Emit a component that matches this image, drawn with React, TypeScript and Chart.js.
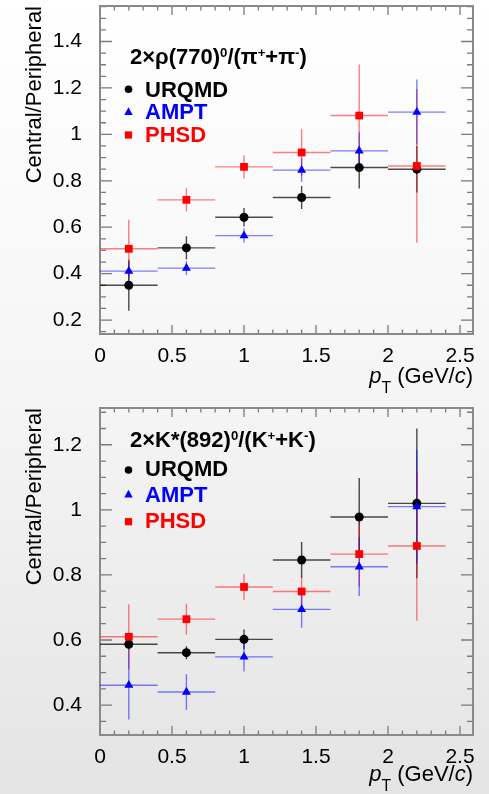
import React, { useEffect, useRef } from "react";
import { Chart, registerables } from "chart.js";

Chart.register(...registerables);

// ---------- data ----------
const binCenters = [0.2, 0.6, 1.0, 1.4, 1.8, 2.2];
const binHalfWidths = [0.2, 0.2, 0.2, 0.2, 0.2, 0.2];
const seriesNames = ["URQMD", "AMPT", "PHSD"];

// rho(770)0 panel
const rhoUrqmd = [0.35, 0.511, 0.643, 0.728, 0.857, 0.85];
const rhoUrqmdErr = [0.11, 0.05, 0.04, 0.05, 0.09, 0.1];
const rhoAmpt = [0.411, 0.424, 0.564, 0.846, 0.929, 1.096];
const rhoAmptErr = [0.04, 0.03, 0.03, 0.05, 0.08, 0.14];
const rhoPhsd = [0.507, 0.718, 0.86, 0.922, 1.081, 0.864];
const rhoPhsdErr = [0.125, 0.05, 0.05, 0.1, 0.22, 0.33];

// K*(892)0 panel
const kUrqmd = [0.587, 0.561, 0.602, 0.846, 0.978, 1.02];
const kUrqmdErr = [0.02, 0.02, 0.03, 0.055, 0.12, 0.23];
const kAmpt = [0.461, 0.44, 0.548, 0.694, 0.825, 1.01];
const kAmptErr = [0.105, 0.055, 0.045, 0.056, 0.09, 0.175];
const kPhsd = [0.61, 0.664, 0.763, 0.749, 0.864, 0.889];
const kPhsdErr = [0.1, 0.047, 0.04, 0.05, 0.1, 0.23];

// axes
const xTicks = [0, 0.5, 1, 1.5, 2, 2.5];
const xRange = [0, 2.59];
const rhoYTicks = [0.2, 0.4, 0.6, 0.8, 1, 1.2, 1.4];
const rhoYRange = [0.14, 1.553];
const kYTicks = [0.4, 0.6, 0.8, 1, 1.2];
const kYRange = [0.308, 1.313];

const yTitle = "Central/Peripheral";

type Piece = { t: string; sup?: boolean; sub?: boolean; italic?: boolean };

const rhoHeader: Piece[] = [
  { t: "2×ρ(770)" },
  { t: "0", sup: true },
  { t: "/(π" },
  { t: "+", sup: true },
  { t: "+π" },
  { t: "-", sup: true },
  { t: ")" },
];
const kHeader: Piece[] = [
  { t: "2×K*(892)" },
  { t: "0", sup: true },
  { t: "/(K" },
  { t: "+", sup: true },
  { t: "+K" },
  { t: "-", sup: true },
  { t: ")" },
];
const xTitlePieces: Piece[] = [
  { t: "p", italic: true },
  { t: "T", sub: true },
  { t: " (GeV/" },
  { t: "c", italic: true },
  { t: ")" },
];

// ---------- styles ----------
const FAMILY = '"Liberation Sans", Arial, Helvetica, sans-serif';
const MARKER_COLORS: Record<string, string> = {
  URQMD: "#000000",
  AMPT: "#0000ff",
  PHSD: "#ff0000",
};
const BAR_COLORS: Record<string, string> = {
  URQMD: "rgba(0,0,0,0.7)",
  AMPT: "rgba(0,0,255,0.5)",
  PHSD: "rgba(255,0,0,0.5)",
};
const POINT_STYLE: Record<string, any> = { URQMD: "circle", AMPT: "triangle", PHSD: "rect" };
const POINT_RADIUS: Record<string, number> = { URQMD: 4.5, AMPT: 5.2, PHSD: 5.5 };
const DRAW_ORDER: Record<string, number> = { URQMD: 2, PHSD: 1, AMPT: 0 };

function drawRich(
  ctx: CanvasRenderingContext2D,
  pieces: Piece[],
  x: number,
  baseline: number,
  size: number,
  bold: boolean,
  color: string,
  alignRight = false
) {
  const fontFor = (p: Piece) => {
    const s = p.sup ? size * 0.6 : p.sub ? size * 0.72 : size;
    return `${p.italic ? "italic " : ""}${bold ? "bold " : ""}${s}px ${FAMILY}`;
  };
  ctx.save();
  ctx.fillStyle = color;
  ctx.textBaseline = "alphabetic";
  ctx.textAlign = "left";
  let total = 0;
  const widths = pieces.map((p) => {
    ctx.font = fontFor(p);
    const w = ctx.measureText(p.t).width;
    total += w;
    return w;
  });
  let cx = alignRight ? x - total : x;
  pieces.forEach((p, i) => {
    ctx.font = fontFor(p);
    const dy = p.sup ? -size * 0.3 : p.sub ? size * 0.45 : 0;
    ctx.fillText(p.t, cx, baseline + dy);
    cx += widths[i];
  });
  ctx.restore();
}

function drawMarker(ctx: CanvasRenderingContext2D, style: string, x: number, y: number, color: string) {
  ctx.save();
  ctx.fillStyle = color;
  ctx.beginPath();
  if (style === "circle") {
    ctx.arc(x, y, 3.8, 0, Math.PI * 2);
  } else if (style === "triangle") {
    ctx.moveTo(x, y - 4.5);
    ctx.lineTo(x + 4.2, y + 3.2);
    ctx.lineTo(x - 4.2, y + 3.2);
    ctx.closePath();
  } else {
    ctx.rect(x - 3.6, y - 3.6, 7.2, 7.2);
  }
  ctx.fill();
  ctx.restore();
}

type PanelProps = {
  height: number;
  padTop: number;
  xAxisHeight: number;
  yTicks: number[];
  yRange: number[];
  values: number[][];
  errors: number[][];
  header: Piece[];
  headerBaseline: number;
  legendMarkerY: number[];
  legendTextBaseline: number[];
  xTitleBaseline: number;
};

const fmt = (v: number) => String(Number(v.toFixed(3)));

function Panel(props: PanelProps) {
  const ref = useRef<HTMLCanvasElement | null>(null);

  useEffect(() => {
    if (!ref.current) return;
    const p = props;

    const framePlugin = {
      id: "rootFrame",
      beforeDatasetsDraw(chart: any) {
        const { ctx, chartArea: a, scales } = chart;
        const xs = scales.x;
        const ys = scales.y;
        ctx.save();
        // ticks
        ctx.strokeStyle = "#7a7a7a";
        ctx.lineWidth = 1.3;
        ctx.beginPath();
        const xMinor = 0.1;
        for (let i = 0; i * xMinor <= xs.max + 1e-9; i++) {
          const v = i * xMinor;
          const major = Math.abs(v / 0.5 - Math.round(v / 0.5)) < 1e-6;
          const len = major ? 9 : 4.5;
          const px = xs.getPixelForValue(v);
          ctx.moveTo(px, a.bottom);
          ctx.lineTo(px, a.bottom - len);
          ctx.moveTo(px, a.top);
          ctx.lineTo(px, a.top + len);
        }
        const yMinor = 0.05;
        const start = Math.ceil(ys.min / yMinor - 1e-9);
        for (let i = start; i * yMinor <= ys.max + 1e-9; i++) {
          const v = i * yMinor;
          const major = Math.abs(v / 0.2 - Math.round(v / 0.2)) < 1e-6;
          const len = major ? 12 : 6;
          const py = ys.getPixelForValue(v);
          ctx.moveTo(a.left, py);
          ctx.lineTo(a.left + len, py);
          ctx.moveTo(a.right, py);
          ctx.lineTo(a.right - len, py);
        }
        ctx.stroke();
        // frame
        ctx.strokeStyle = "#8a8a8a";
        ctx.lineWidth = 2;
        ctx.strokeRect(a.left, a.top, a.right - a.left, a.bottom - a.top);

        // error bars: URQMD, PHSD, AMPT
        const order = [0, 2, 1];
        ctx.lineWidth = 1.4;
        order.forEach((si) => {
          const name = seriesNames[si];
          ctx.strokeStyle = BAR_COLORS[name];
          ctx.beginPath();
          binCenters.forEach((c, i) => {
            const v = p.values[si][i];
            const e = p.errors[si][i];
            const px = xs.getPixelForValue(c);
            const py = ys.getPixelForValue(v);
            ctx.moveTo(xs.getPixelForValue(c - binHalfWidths[i]), py);
            ctx.lineTo(xs.getPixelForValue(c + binHalfWidths[i]), py);
            ctx.moveTo(px, ys.getPixelForValue(v + e));
            ctx.lineTo(px, ys.getPixelForValue(v - e));
          });
          ctx.stroke();
        });
        ctx.restore();
      },
      afterDraw(chart: any) {
        const { ctx, chartArea: a } = chart;
        drawRich(ctx, p.header, 130, p.headerBaseline, 22, true, "#000");
        seriesNames.forEach((name, i) => {
          drawMarker(ctx, POINT_STYLE[name], 128.5, p.legendMarkerY[i], MARKER_COLORS[name]);
          drawRich(ctx, [{ t: name }], 145, p.legendTextBaseline[i], 22, true, MARKER_COLORS[name]);
        });
        drawRich(ctx, xTitlePieces, a.right, p.xTitleBaseline, 22, false, "#000", true);
      },
    };

    const datasets = seriesNames.map((name, si) => ({
      label: name,
      data: binCenters.map((x, i) => ({ x, y: p.values[si][i] })),
      pointStyle: POINT_STYLE[name],
      pointRadius: POINT_RADIUS[name],
      backgroundColor: MARKER_COLORS[name],
      borderColor: MARKER_COLORS[name],
      borderWidth: 0,
      showLine: false,
      order: DRAW_ORDER[name],
    }));

    const chart = new Chart(ref.current, {
      type: "scatter",
      data: { datasets },
      options: {
        animation: false,
        responsive: false,
        events: [],
        layout: { padding: { top: p.padTop, right: 16, left: 0, bottom: 0 } },
        plugins: { legend: { display: false }, tooltip: { enabled: false } },
        scales: {
          x: {
            type: "linear",
            min: xRange[0],
            max: xRange[1],
            grid: { display: false },
            border: { display: false },
            ticks: {
              autoSkip: false,
              maxRotation: 0,
              padding: 2,
              color: "#000",
              font: { family: FAMILY, size: 21 },
              callback: (v: any) => fmt(Number(v)),
            },
            afterBuildTicks: (s: any) => {
              s.ticks = xTicks.map((v) => ({ value: v }));
            },
            afterFit: (s: any) => {
              s.height = p.xAxisHeight;
              s.paddingLeft = 0;
              s.paddingRight = 0;
            },
          },
          y: {
            type: "linear",
            min: p.yRange[0],
            max: p.yRange[1],
            grid: { display: false },
            border: { display: false },
            ticks: {
              autoSkip: false,
              padding: 10,
              color: "#000",
              font: { family: FAMILY, size: 21 },
              callback: (v: any) => fmt(Number(v)),
            },
            afterBuildTicks: (s: any) => {
              s.ticks = p.yTicks.map((v) => ({ value: v }));
            },
            afterFit: (s: any) => {
              s.width = 100;
              s.paddingTop = 0;
              s.paddingBottom = 0;
            },
            title: {
              display: true,
              text: yTitle,
              align: "end",
              color: "#000",
              font: { family: FAMILY, size: 22 },
              padding: { top: 22, bottom: 0 },
            },
          },
        },
      } as any,
      plugins: [framePlugin],
    } as any);
    return () => chart.destroy();
  }, []);

  return <canvas ref={ref} width={489} height={props.height} style={{ display: "block" }} />;
}

export default function App() {
  return (
    <div
      style={{
        position: "absolute",
        left: 0,
        top: 0,
        width: 489,
        height: 794,
        background: "linear-gradient(to bottom, #ffffff 0%, #f5f5f5 50%, #e4e4e4 100%)",
      }}
    >
      <Panel
        height={397}
        padTop={6}
        xAxisHeight={63}
        yTicks={rhoYTicks}
        yRange={rhoYRange}
        values={[rhoUrqmd, rhoAmpt, rhoPhsd]}
        errors={[rhoUrqmdErr, rhoAmptErr, rhoPhsdErr]}
        header={rhoHeader}
        headerBaseline={64}
        legendMarkerY={[89.3, 111.7, 135]}
        legendTextBaseline={[96.5, 119, 141.5]}
        xTitleBaseline={383}
      />
      <Panel
        height={397}
        padTop={11}
        xAxisHeight={59}
        yTicks={kYTicks}
        yRange={kYRange}
        values={[kUrqmd, kAmpt, kPhsd]}
        errors={[kUrqmdErr, kAmptErr, kPhsdErr]}
        header={kHeader}
        headerBaseline={50}
        legendMarkerY={[73, 97.3, 124.7]}
        legendTextBaseline={[79, 104.5, 131]}
        xTitleBaseline={384}
      />
    </div>
  );
}
